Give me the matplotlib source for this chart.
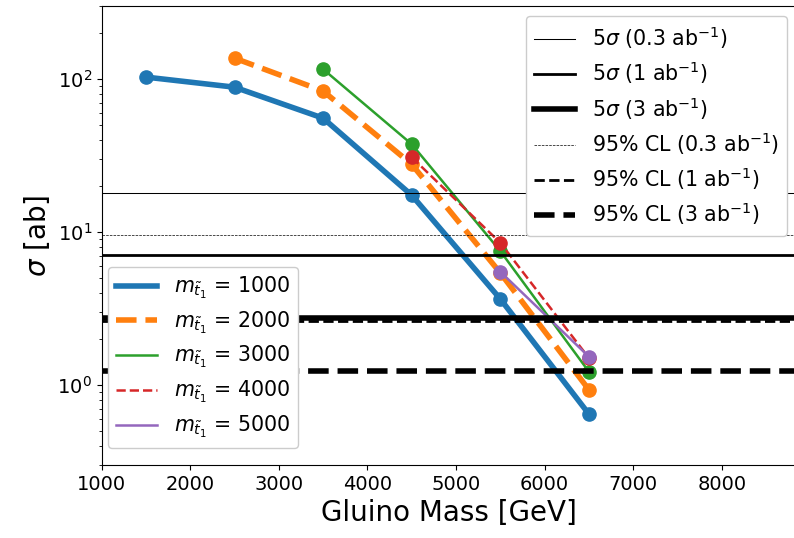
import numpy as np
import matplotlib
matplotlib.use("Agg")
import matplotlib.pyplot as plt

# gluino masses and cross sections for each stop mass
stop_masses = [1000, 2000, 3000, 4000, 5000]
gluino_1000 = [1500, 2500, 3500, 4500, 5500, 6500]
sigma_1000 = [103, 88.5, 55.5, 17.4, 3.65, 0.645]
gluino_2000 = [2500, 3500, 4500, 5500, 6500]
sigma_2000 = [137, 83.5, 27.7, 5.4, 0.93]
gluino_3000 = [3500, 4500, 5500, 6500]
sigma_3000 = [116, 37.5, 7.5, 1.22]
gluino_4000 = [4500, 5500, 6500]
sigma_4000 = [30.8, 8.5, 1.5]
gluino_5000 = [5500, 6500]
sigma_5000 = [5.5, 1.53]

# reach lines
limit_labels = [r"5$\sigma$ (0.3 ab$^{-1}$)", r"5$\sigma$ (1 ab$^{-1}$)",
                r"5$\sigma$ (3 ab$^{-1}$)", r"95% CL (0.3 ab$^{-1}$)",
                r"95% CL (1 ab$^{-1}$)", r"95% CL (3 ab$^{-1}$)"]
limit_values = [18.0, 7.1, 2.75, 9.6, 2.62, 1.23]

gluinos = [gluino_1000, gluino_2000, gluino_3000, gluino_4000, gluino_5000]
sigmas = [sigma_1000, sigma_2000, sigma_3000, sigma_4000, sigma_5000]
colors = ["C0", "C1", "C2", "C3", "C4"]
styles = ["-", "--", "-", "--", "-"]
widths = [4, 4, 1.8, 1.8, 1.8]

limit_styles = ["-", "-", "-", "--", "--", "--"]
limit_widths = [0.75, 2, 4, 0.5, 2, 4]

fig = plt.figure(figsize=(7.94, 5.38), dpi=100)
ax = fig.add_axes([0.128, 0.1357, 0.876, 0.853])

curve_handles = []
for m, x, y, c, ls, lw in zip(stop_masses, gluinos, sigmas, colors, styles, widths):
    h, = ax.plot(x, y, color=c, ls=ls, lw=lw, label=r"$m_{\tilde{t}_1}$ = %d" % m)
    ax.plot(x, y, "o", color=c, ms=9.5)
    curve_handles.append(h)

limit_handles = []
for lab, v, ls, lw in zip(limit_labels, limit_values, limit_styles, limit_widths):
    h = ax.axhline(v, color="k", ls=ls, lw=lw, label=lab)
    limit_handles.append(h)

ax.set_yscale("log")
ax.set_xlim(1000, 8850)
ax.set_ylim(0.3, 300)
ax.tick_params(labelsize=14)
ax.set_xlabel("Gluino Mass [GeV]", fontsize=20)
ax.set_ylabel(r"$\sigma$ [ab]", fontsize=20)

leg1 = ax.legend(handles=curve_handles, loc="lower left", fontsize=14.8,
                 labelspacing=0.42, framealpha=1,
                 bbox_to_anchor=(-0.0056, 0.0144))
ax.add_artist(leg1)
ax.legend(handles=limit_handles, loc="upper right", fontsize=14.8,
          labelspacing=0.42, framealpha=1)

fig.savefig("out.png", dpi=100)
